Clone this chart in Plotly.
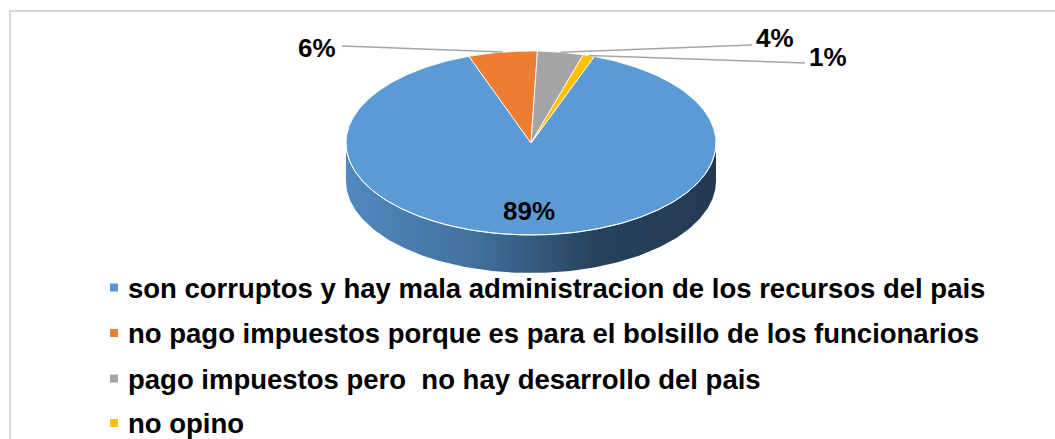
import numpy as np
import plotly.graph_objects as go

# ---- data ----
categories = [
    "son corruptos y hay mala administracion de los recursos del pais",
    "no pago impuestos porque es para el bolsillo de los funcionarios",
    "pago impuestos pero  no hay desarrollo del pais",
    "no opino",
]
values = [89, 6, 4, 1]
value_labels = ["89%", "6%", "4%", "1%"]
colors = ["#5b9bd5", "#ed7d31", "#a5a5a5", "#ffc000"]

# ---- layout parameters (pixel space) ----
W, H = 1055, 439
cx, cy = 531, 143          # pie centre
rx, ry = 185, 92           # ellipse radii of top face
depth = 38                 # thickness of the 3D side
first_angle = 20           # degrees, clockwise from 12 o'clock

FONT = "Liberation Sans, Arial, sans-serif"


def ell(theta_deg, dy=0.0):
    t = np.radians(theta_deg)
    return cx + rx * np.sin(t), cy - ry * np.cos(t) + dy


fig = go.Figure()

# 3D side (front half of the ellipse)
th = np.linspace(90, 270, 200)
xt, yt = ell(th)
xb, yb = ell(th[::-1], depth)
fig.add_trace(go.Scatter(
    x=np.concatenate([xt, xb, xt[:1]]),
    y=np.concatenate([yt, yb, yt[:1]]),
    mode="lines", fill="toself",
    line=dict(width=0, color="rgba(0,0,0,0)"),
    fillcolor="#3b6690",
    fillgradient=dict(type="horizontal",
                      colorscale=[[0, "#5189c0"], [0.35, "#41709c"],
                                  [0.68, "#27415b"], [1, "#233a51"]]),
    hoverinfo="skip", showlegend=False))

# top face slices
total = sum(values)
start = first_angle
mids = []
for v, c in zip(values, colors):
    span = 360.0 * v / total
    a = np.linspace(start, start + span, max(int(span * 2), 4))
    xs, ys = ell(a)
    fig.add_trace(go.Scatter(
        x=np.concatenate([[cx], xs, [cx]]),
        y=np.concatenate([[cy], ys, [cy]]),
        mode="lines", fill="toself", fillcolor=c,
        line=dict(color="rgba(255,255,255,0.85)", width=1),
        hoverinfo="skip", showlegend=False))
    mids.append(start + span / 2)
    start += span

# highlight along the front top edge
th = np.linspace(90, 270, 200)
xt, yt = ell(th)
fig.add_trace(go.Scatter(x=xt, y=yt, mode="lines",
                         line=dict(color="rgba(255,255,255,0.9)", width=1),
                         hoverinfo="skip", showlegend=False))

# labels: positions (pixel) and leader-line ends
label_pos = [(528.5, 211), (317, 48), (775, 38), (828, 57)]
leader_end = [None, (342, 46), (752, 45), (805, 63)]

for i, (txt, (lx, ly)) in enumerate(zip(value_labels, label_pos)):
    if leader_end[i] is not None:
        mx, my = ell(mids[i])
        ex, ey = leader_end[i]
        fig.add_trace(go.Scatter(x=[mx, ex], y=[my, ey], mode="lines",
                                 line=dict(color="#a6a6a6", width=1.5),
                                 hoverinfo="skip", showlegend=False))
    fig.add_annotation(x=lx, y=ly, xref="x", yref="y", text=txt,
                       showarrow=False, xanchor="center", yanchor="middle",
                       font=dict(family=FONT, size=26, color="#000000",
                                 weight="bold"))

# legend (manual)
leg_x_marker, leg_x_text = 114, 127
leg_y = [287.5, 333, 378.5, 423]
fig.add_trace(go.Scatter(x=[leg_x_marker] * len(categories), y=leg_y,
                         mode="markers",
                         marker=dict(symbol="square", size=8, color=colors),
                         hoverinfo="skip", showlegend=False))
for cat, y in zip(categories, leg_y):
    fig.add_annotation(x=leg_x_text, y=y + 0.5, xref="x", yref="y", text=cat,
                       showarrow=False, xanchor="left", yanchor="middle",
                       borderpad=0,
                       font=dict(family=FONT, size=27.5, color="#000000",
                                 weight="bold"))

# chart frame
fig.add_shape(type="rect", xref="x", yref="y", x0=10, y0=11, x1=1070, y1=460,
              line=dict(color="#d9d9d9", width=2), fillcolor="rgba(0,0,0,0)")

fig.update_layout(
    width=W, height=H, autosize=False,
    margin=dict(l=0, r=0, t=0, b=0),
    paper_bgcolor="white", plot_bgcolor="white",
    xaxis=dict(range=[0, W], visible=False, fixedrange=True),
    yaxis=dict(range=[H, 0], visible=False, fixedrange=True),
    showlegend=False,
)

fig.write_html("out.html", config={"displayModeBar": False},
               post_script="document.body.style.margin='0';"
                           "document.body.style.overflow='hidden';")
